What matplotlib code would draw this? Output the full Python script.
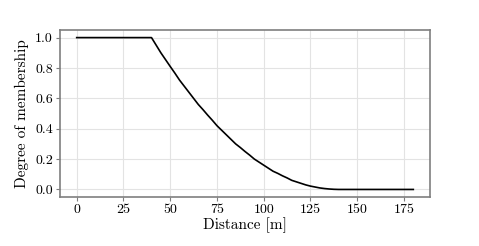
import numpy as np
import matplotlib
matplotlib.use("Agg")
import matplotlib.pyplot as plt

# values
distance = [0, 40, 42.5, 45, 47.5, 50, 52.5, 55, 57.5, 60, 62.5, 65, 67.5,
            70, 72.5, 75, 77.5, 80, 82.5, 85, 87.5, 90, 92.5, 95, 97.5,
            100, 102.5, 105, 107.5, 110, 112.5, 115, 117.5, 120, 122.5,
            125, 127.5, 130, 132.5, 135, 137.5, 140, 180]
membership = [1.0, 1.0, 0.95, 0.90, 0.855, 0.81, 0.766, 0.72, 0.68, 0.64,
              0.60, 0.56, 0.526, 0.49, 0.456, 0.42, 0.39, 0.36, 0.33, 0.30,
              0.276, 0.25, 0.226, 0.20, 0.18, 0.16, 0.14, 0.12, 0.106,
              0.09, 0.076, 0.06, 0.05, 0.04, 0.03, 0.022, 0.016, 0.01,
              0.006, 0.003, 0.001, 0.0, 0.0]
xticks = [0, 25, 50, 75, 100, 125, 150, 175]
yticks = [0.0, 0.2, 0.4, 0.6, 0.8, 1.0]

plt.rcParams['font.family'] = ['cmr10', 'DejaVu Serif']
plt.rcParams['mathtext.fontset'] = 'cm'
plt.rcParams['axes.formatter.use_mathtext'] = True

fig = plt.figure(figsize=(4.79, 2.46), dpi=100)
ax = fig.add_axes([0.125, 0.199, 0.773, 0.679])

ax.plot(distance, membership, color='black', lw=1.2)

ax.set_xticks(xticks)
ax.set_yticks(yticks)
ax.set_xticklabels([str(t) for t in xticks])
ax.set_yticklabels(['%.1f' % t for t in yticks])
ax.grid(True, color='#e3e3e3', lw=0.8)
ax.set_axisbelow(True)
for s in ax.spines.values():
    s.set_color('#7f7f7f')
    s.set_linewidth(1.2)
ax.tick_params(axis='both', direction='out', length=3, width=0.8,
               color='#7f7f7f', labelsize=10, pad=2)

ax.set_xlabel('Distance [m]', fontsize=11, labelpad=1)
ax.set_ylabel('Degree of membership', fontsize=11, labelpad=4)

fig.savefig('out.png', dpi=100)
